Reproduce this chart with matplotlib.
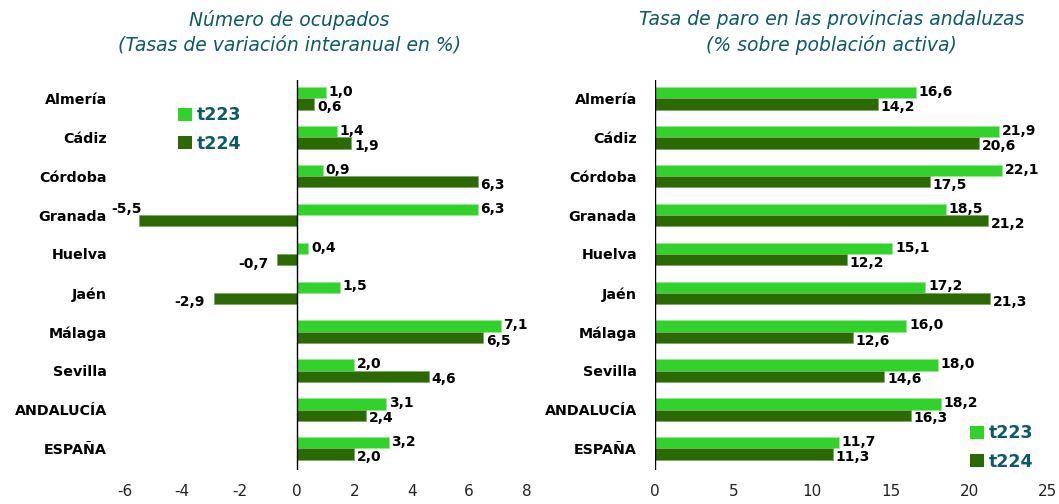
import matplotlib.pyplot as plt
from matplotlib.patches import Patch

# Data
provincias = ['Almería', 'Cádiz', 'Córdoba', 'Granada', 'Huelva', 'Jaén',
              'Málaga', 'Sevilla', 'ANDALUCÍA', 'ESPAÑA']
series = ['t223', 't224']
ocupados_t223 = [1.0, 1.4, 0.9, 6.3, 0.4, 1.5, 7.1, 2.0, 3.1, 3.2]
ocupados_t224 = [0.6, 1.9, 6.3, -5.5, -0.7, -2.9, 6.5, 4.6, 2.4, 2.0]
paro_t223 = [16.6, 21.9, 22.1, 18.5, 15.1, 17.2, 16.0, 18.0, 18.2, 11.7]
paro_t224 = [14.2, 20.6, 17.5, 21.2, 12.2, 21.3, 12.6, 14.6, 16.3, 11.3]

light = '#30D22B'
dark = '#2B6A03'
teal = '#0B5A68'

fig = plt.figure(figsize=(10.59, 5.04), dpi=100)
ax1 = fig.add_axes([0.118, 0.067, 0.379, 0.774])
ax2 = fig.add_axes([0.6185, 0.067, 0.371, 0.774])

h = 0.29
y = list(range(len(provincias)))


def fmt(v):
    return f'{v:.1f}'.replace('.', ',')


def draw(ax, a, b, xlim, ticks):
    ya = [i - h / 2 for i in y]
    yb = [i + h / 2 for i in y]
    ax.barh(ya, a, height=h, color=light, edgecolor='#9BE58F', linewidth=0.6)
    ax.barh(yb, b, height=h, color=dark, edgecolor='#7FA86A', linewidth=0.6)
    ax.set_xlim(*xlim)
    ax.set_ylim(9.56, -0.47)
    ax.tick_params(length=0)
    ax.tick_params(axis='y', pad=13)
    ax.tick_params(axis='x', pad=10)
    ax.set_yticks(y)
    ax.set_yticklabels(provincias, fontsize=10.3, fontweight='bold')
    ax.set_xticks(ticks)
    ax.set_xticklabels([str(t) for t in ticks], fontsize=11, color='#222222')
    for s in ['top', 'right', 'bottom', 'left']:
        ax.spines[s].set_visible(False)
    ax.axvline(0, color='black', linewidth=1.0)
    span = xlim[1] - xlim[0]
    off = span * 0.007
    for i in y:
        va_, vb_ = a[i], b[i]
        ax.text(va_ + off, ya[i] - 0.02, fmt(va_), fontsize=10, fontweight='bold',
                va='center', ha='left')
        if vb_ >= 0:
            ax.text(vb_ + off, yb[i] + 0.08, fmt(vb_), fontsize=10, fontweight='bold',
                    va='center', ha='left')
        elif vb_ < -4:
            ax.text(vb_ + span * 0.005, yb[i] - 0.3, fmt(vb_), fontsize=10,
                    fontweight='bold', va='center', ha='right')
        else:
            ax.text(vb_ - span * 0.022, yb[i] + 0.1, fmt(vb_), fontsize=10,
                    fontweight='bold', va='center', ha='right')


draw(ax1, ocupados_t223, ocupados_t224, (-6, 8), [-6, -4, -2, 0, 2, 4, 6, 8])
draw(ax2, paro_t223, paro_t224, (0, 25), [0, 5, 10, 15, 20, 25])

ax1.set_title('Número de ocupados\n(Tasas de variación interanual en %)',
              fontsize=13.5, style='italic', color=teal, pad=21, x=0.41,
              linespacing=1.4)
ax2.set_title('Tasa de paro en las provincias andaluzas\n(% sobre población activa)',
              fontsize=13.5, style='italic', color=teal, pad=21, x=0.45,
              linespacing=1.4)

handles = [Patch(facecolor=light, edgecolor='none', label=series[0]),
           Patch(facecolor=dark, edgecolor='none', label=series[1])]
for ax, anchor in [(ax1, (0.168, 0.789)), (ax2, (0.916, 0.158))]:
    ax.legend(handles=handles, loc='upper left', bbox_to_anchor=anchor,
              bbox_transform=fig.transFigure, frameon=False, borderpad=0,
              borderaxespad=0, handlelength=0.8, handleheight=0.8,
              handletextpad=0.3, labelspacing=0.6, labelcolor=teal,
              prop={'size': 12.5, 'weight': 'bold'})

fig.savefig('out.png', dpi=100)
